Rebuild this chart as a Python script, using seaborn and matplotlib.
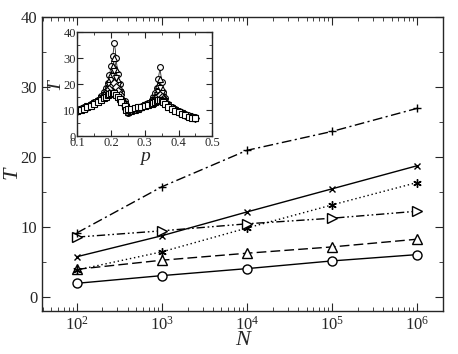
import numpy as np
import pandas as pd
import matplotlib
matplotlib.use("Agg")
import matplotlib.pyplot as plt
import seaborn as sns
from matplotlib.ticker import MultipleLocator, LogLocator, NullFormatter

# ==================== DATA ====================
N_VALUES = [1e2, 1e3, 1e4, 1e5, 1e6]

T_CIRCLE = [2.0, 3.1, 4.1, 5.2, 6.1]
T_TRIUP = [4.0, 5.3, 6.3, 7.2, 8.3]
T_STAR = [3.9, 6.5, 9.9, 13.2, 16.4]
T_CROSS = [5.8, 8.8, 12.2, 15.5, 18.8]
T_TRIRIGHT = [8.6, 9.5, 10.5, 11.3, 12.3]
T_PLUS = [9.2, 15.8, 21.0, 23.7, 27.0]

# inset: T versus p, two branches, five sizes
P_LEFT = [0.10, 0.11, 0.12, 0.13, 0.14, 0.15, 0.16, 0.17, 0.18, 0.185, 0.19,
          0.195, 0.20, 0.205, 0.21, 0.215, 0.22, 0.225, 0.23, 0.24, 0.245]
P_RIGHT = [0.25, 0.26, 0.27, 0.28, 0.29, 0.30, 0.31, 0.32, 0.325, 0.33, 0.335,
           0.34, 0.345, 0.35, 0.355, 0.36, 0.37, 0.38, 0.39, 0.40, 0.41, 0.42,
           0.43, 0.44, 0.45]

TL_A = [10.2, 10.6, 11.0, 11.6, 12.3, 13.0, 14.0, 15.3, 17.0, 18.5, 20.5,
        23.5, 27.0, 31.0, 36.0, 30.0, 24.0, 20.0, 17.0, 13.5, 12.0]
TL_B = [10.1, 10.5, 10.9, 11.5, 12.2, 12.9, 13.8, 15.0, 16.5, 17.8, 19.5,
        21.5, 24.0, 27.0, 30.0, 26.0, 21.5, 18.5, 16.0, 13.0, 11.5]
TL_C = [10.0, 10.4, 10.8, 11.4, 12.0, 12.7, 13.6, 14.6, 16.0, 17.0, 18.3,
        19.8, 21.5, 23.0, 25.0, 22.5, 19.5, 17.0, 15.0, 12.5, 11.0]
TL_D = [9.8, 10.3, 10.7, 11.3, 11.9, 12.6, 13.4, 14.3, 15.5, 16.3, 17.2,
        18.2, 19.0, 19.8, 20.5, 19.0, 17.3, 15.8, 14.3, 12.0, 10.5]
TL_E = [9.6, 10.2, 10.6, 11.1, 11.7, 12.4, 13.1, 13.8, 14.7, 15.2, 15.7,
        16.1, 16.4, 16.6, 16.5, 16.0, 15.2, 14.3, 13.3, 11.5, 10.2]

TR_A = [9.0, 9.5, 10.0, 10.5, 11.0, 11.8, 12.8, 14.0, 15.0, 16.5, 18.5, 22.0,
        26.5, 21.0, 17.0, 14.5, 12.5, 11.3, 10.3, 9.6, 9.0, 8.4, 7.9, 7.5, 7.2]
TR_B = [9.2, 9.6, 10.1, 10.6, 11.1, 11.8, 12.6, 13.6, 14.4, 15.5, 17.0, 19.5,
        22.0, 18.5, 16.0, 14.0, 12.3, 11.1, 10.2, 9.5, 8.9, 8.3, 7.8, 7.4, 7.1]
TR_C = [9.5, 9.8, 10.2, 10.7, 11.2, 11.8, 12.5, 13.3, 13.9, 14.7, 15.8, 17.0,
        18.5, 16.5, 15.0, 13.5, 12.0, 10.9, 10.0, 9.4, 8.8, 8.2, 7.7, 7.3, 7.0]
TR_D = [10.0, 10.2, 10.5, 10.9, 11.3, 11.8, 12.3, 13.0, 13.5, 14.0, 14.7, 15.4,
        16.0, 15.2, 14.2, 13.0, 11.7, 10.7, 9.9, 9.3, 8.7, 8.1, 7.6, 7.2, 6.9]
TR_E = [10.5, 10.6, 10.8, 11.0, 11.3, 11.6, 12.0, 12.5, 12.8, 13.1, 13.5, 13.8,
        14.0, 13.6, 13.0, 12.3, 11.3, 10.5, 9.8, 9.2, 8.6, 8.0, 7.5, 7.1, 6.8]

# ==================== STYLE ====================
sns.set_style("ticks")
plt.rcParams["font.family"] = ["Liberation Serif", "DejaVu Serif"]
plt.rcParams["mathtext.fontset"] = "custom"
plt.rcParams["mathtext.rm"] = "Liberation Serif"
plt.rcParams["mathtext.it"] = "Liberation Serif:italic"
plt.rcParams["axes.linewidth"] = 1.0

fig = plt.figure(figsize=(4.58, 3.54), dpi=100)
ax = fig.add_axes([0.0917, 0.1206, 0.875, 0.8305])

main_series = [
    (T_CIRCLE, "o", "-", 6.5),
    (T_TRIUP, "^", (0, (7, 3)), 6.5),
    (T_STAR, (6, 2, 0), (0, (1, 2)), 6),
    (T_CROSS, "x", "-", 5),
    (T_TRIRIGHT, ">", (0, (6, 2, 1.2, 2, 1.2, 2)), 6.5),
    (T_PLUS, "+", (0, (7, 2.5, 1.5, 2.5)), 6),
]

for vals, mk, ls, ms in main_series:
    sns.lineplot(x=N_VALUES, y=vals, ax=ax, color="black", lw=1.0,
                 linestyle=ls, marker=mk, markersize=ms,
                 markerfacecolor="white", markeredgecolor="black",
                 markeredgewidth=1.0)

ax.set_xscale("log")
ax.set_xlim(10 ** 1.59, 10 ** 6.3)
ax.set_ylim(-2, 40)
ax.yaxis.set_major_locator(MultipleLocator(10))
ax.yaxis.set_minor_locator(MultipleLocator(5))
ax.xaxis.set_major_locator(LogLocator(base=10, numticks=10))
ax.xaxis.set_minor_locator(LogLocator(base=10, subs=np.arange(2, 10), numticks=20))
ax.xaxis.set_minor_formatter(NullFormatter())
ax.tick_params(which="both", direction="in", top=True, right=True, labelsize=12)
ax.tick_params(which="major", length=6)
ax.tick_params(which="minor", length=3)
ax.set_xlabel("N", fontsize=16, fontstyle="italic", labelpad=-2)
ax.set_ylabel("T", fontsize=16, fontstyle="italic")
ax.yaxis.set_label_coords(-0.05, 0.47)

# ==================== INSET ====================
axin = fig.add_axes([0.1688, 0.6158, 0.2948, 0.2929])
inset_markers = ["o", "^", "v", "D", "s"]
left_sets = [TL_A, TL_B, TL_C, TL_D, TL_E]
right_sets = [TR_A, TR_B, TR_C, TR_D, TR_E]
for mk, tl, tr in zip(inset_markers, left_sets, right_sets):
    for pp, tt in ((P_LEFT, tl), (P_RIGHT, tr)):
        sns.lineplot(x=pp, y=tt, ax=axin, color="black", lw=0.5,
                     marker=mk, markersize=4.2, markerfacecolor="white",
                     markeredgecolor="black", markeredgewidth=0.8)

axin.set_xlim(0.1, 0.5)
axin.set_ylim(0, 40)
axin.xaxis.set_major_locator(MultipleLocator(0.1))
axin.xaxis.set_minor_locator(MultipleLocator(0.05))
axin.yaxis.set_major_locator(MultipleLocator(10))
axin.yaxis.set_minor_locator(MultipleLocator(5))
axin.tick_params(which="both", direction="in", top=True, right=True,
                 labelsize=9, pad=1)
axin.tick_params(which="major", length=4)
axin.tick_params(which="minor", length=2)
axin.set_xlabel("p", fontsize=14, fontstyle="italic", labelpad=-1)
axin.set_ylabel("T", fontsize=14, fontstyle="italic", labelpad=0)

fig.savefig("out.png", dpi=100)
